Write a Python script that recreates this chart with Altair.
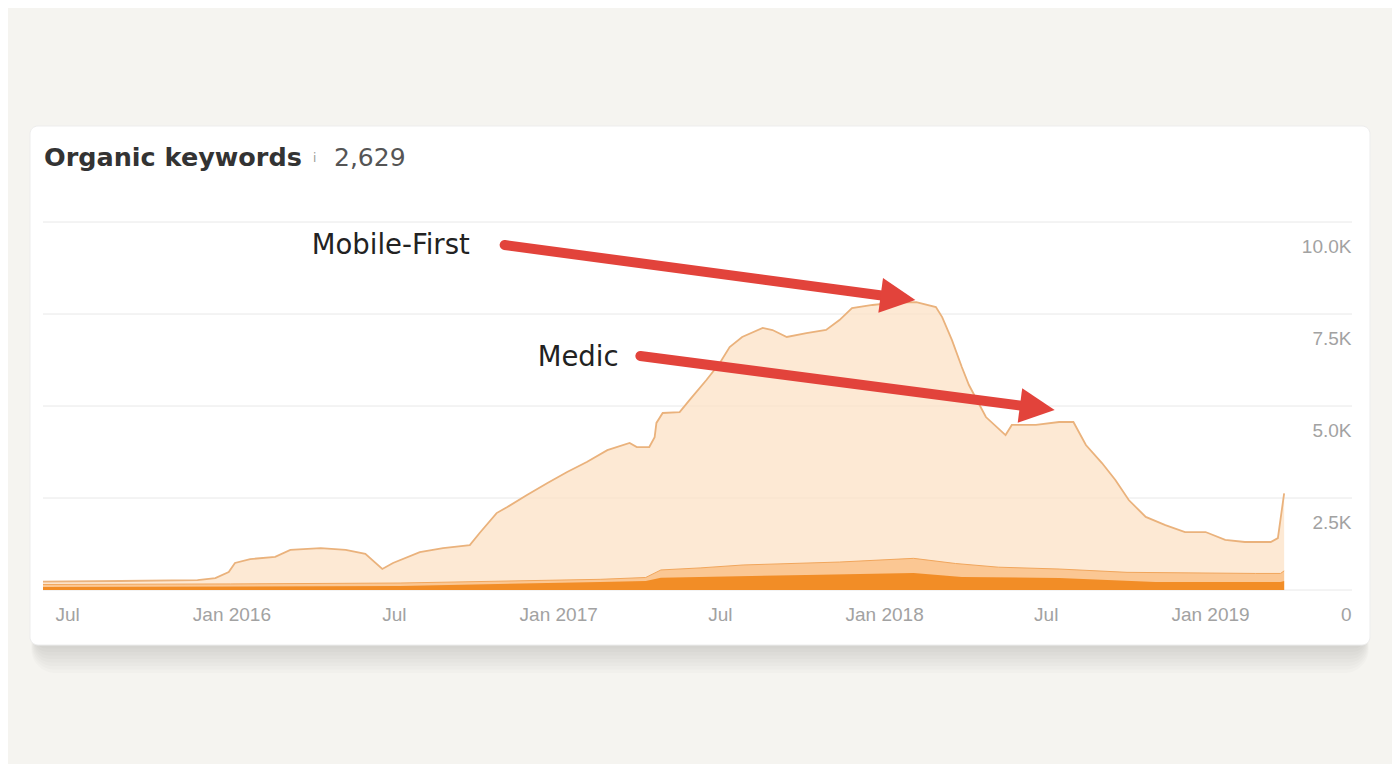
import altair as alt
import pandas as pd

# ---------------- data ----------------
top_dates = ["2015-06-04", "2015-08-30", "2015-11-24", "2015-12-14", "2015-12-29",
             "2016-01-05", "2016-01-22", "2016-02-19", "2016-03-07", "2016-04-10",
             "2016-05-08", "2016-05-30", "2016-06-18", "2016-06-30", "2016-07-30",
             "2016-08-25", "2016-09-24", "2016-10-05", "2016-10-24", "2016-11-05",
             "2016-11-27", "2016-12-20", "2017-01-11", "2017-02-02", "2017-02-25",
             "2017-03-22", "2017-03-30", "2017-04-13", "2017-04-19", "2017-04-21",
             "2017-04-28", "2017-05-17", "2017-05-28", "2017-06-16", "2017-07-01",
             "2017-07-12", "2017-07-26", "2017-08-18", "2017-08-29", "2017-09-14",
             "2017-10-06", "2017-10-28", "2017-11-12", "2017-11-26", "2017-12-19",
             "2018-01-10", "2018-02-06", "2018-02-28", "2018-03-07", "2018-03-18",
             "2018-03-29", "2018-04-06", "2018-04-25", "2018-05-17", "2018-05-24",
             "2018-06-20", "2018-07-16", "2018-08-01", "2018-08-15", "2018-09-02",
             "2018-09-17", "2018-10-02", "2018-10-21", "2018-11-12", "2018-12-04",
             "2018-12-27", "2019-01-18", "2019-02-09", "2019-03-10", "2019-03-18",
             "2019-03-25"]
top_values = [230, 245, 270, 325, 490,
              735, 840, 900, 1090, 1140,
              1090, 980, 570, 735, 1030,
              1140, 1220, 1550, 2090, 2255,
              2580, 2910, 3205, 3480, 3800,
              3995, 3885, 3885, 4155, 4540,
              4810, 4835, 5160, 5705, 6170,
              6600, 6875, 7120, 7065, 6875,
              6980, 7065, 7335, 7660, 7745,
              7800, 7825, 7690, 7415, 6790,
              6060, 5570, 4700, 4210, 4485,
              4485, 4565, 4565, 3940, 3450,
              2990, 2445, 1985, 1765, 1575,
              1575, 1360, 1305, 1305, 1410,
              2629]

mid_dates = ["2015-06-04", "2015-12-31", "2016-07-08", "2017-02-17", "2017-04-09",
             "2017-04-26", "2017-06-09", "2017-07-27", "2017-11-12", "2018-02-03",
             "2018-03-22", "2018-05-09", "2018-07-16", "2018-09-30", "2019-02-21",
             "2019-03-21", "2019-03-25"]
mid_values = [150, 165, 190, 290, 340,
              545, 600, 680, 760, 860,
              720, 620, 570, 480, 450,
              450, 520]

low_dates = ["2015-06-04", "2016-07-08", "2017-02-17", "2017-04-09", "2017-04-26",
             "2017-10-06", "2018-02-03", "2018-03-29", "2018-07-16", "2018-11-01",
             "2019-03-21", "2019-03-25"]
low_values = [80, 110, 215, 245, 330,
              410, 460, 355, 325, 215,
              215, 245]

y_ticks = [0, 2500, 5000, 7500, 10000]

ann_labels = ["Mobile-First", "Medic"]
ann_label_dates = ["2016-03-31", "2016-12-09"]
ann_label_values = [9346, 6303]
arrow_tail_dates = ["2016-11-02", "2017-04-03"]
arrow_tail_values = [9374, 6358]
arrow_neck_dates = ["2018-01-13", "2018-06-19"]
arrow_neck_values = [7953, 4961]
arrow_tip_dates = ["2018-02-05", "2018-07-11"]
arrow_tip_values = [7880, 4891]
arrow_angles = [7.6, 7.4]

title_text = "Organic keywords"
title_value = "2,629"

# ---------------- styling ----------------
PAGE_BG = "#f5f4f0"
PEACH = "#fce0c2"
PEACH_LINE = "#eab27c"
MID = "#f9b878"
LOW = "#f28d26"
RED = "#e2433b"
LABEL_GRAY = "#a2a2a2"
AXIS_FONT = "Liberation Sans"

x_scale = alt.Scale(type="utc",
                    domain=[alt.DateTime(year=2015, month=6, date=4, utc=True),
                            alt.DateTime(year=2019, month=6, date=9, utc=True)])
x_vals = [alt.DateTime(year=y, month=m, date=1, utc=True)
          for (y, m) in [(2015, 7), (2016, 1), (2016, 7), (2017, 1),
                         (2017, 7), (2018, 1), (2018, 7), (2019, 1)]]
x_axis = alt.Axis(values=x_vals, title=None, grid=False, ticks=False, domain=False,
                  labelFlush=False, labelOverlap=False, labelPadding=15,
                  labelFont=AXIS_FONT, labelFontSize=19, labelColor=LABEL_GRAY,
                  zindex=1,
                  labelExpr="utcFormat(datum.value, '%m') == '01' ? utcFormat(datum.value, '%b %Y') : utcFormat(datum.value, '%b')")
y_scale = alt.Scale(domain=[0, 10000], nice=False)
y_axis = alt.Axis(orient="right", values=y_ticks, title=None, grid=False, ticks=False,
                  tickSize=0, domain=False, labelAlign="right", labelPadding=-1,
                  labelOffset=24, labelFont=AXIS_FONT, labelFontSize=19,
                  labelColor=LABEL_GRAY, zindex=1,
                  labelExpr="datum.value == 0 ? '0' : format(datum.value / 1000, '.1f') + 'K'")

X = alt.X("date:T", scale=x_scale, axis=x_axis)
Y = alt.Y("value:Q", scale=y_scale, axis=y_axis)

top_df = pd.DataFrame({"date": top_dates, "value": top_values})
mid_df = pd.DataFrame({"date": mid_dates, "value": mid_values})
low_df = pd.DataFrame({"date": low_dates, "value": low_values})
grid_df = pd.DataFrame({"value": y_ticks})
label_df = pd.DataFrame({"date": ann_label_dates, "value": ann_label_values, "label": ann_labels})
shaft_df = pd.DataFrame({"date": arrow_tail_dates, "value": arrow_tail_values,
                         "date2": arrow_neck_dates, "value2": arrow_neck_values})
head_df = pd.DataFrame({"date": arrow_tip_dates, "value": arrow_tip_values, "angle": arrow_angles})
dummy = pd.DataFrame({"a": [0]})

# card (white panel with soft shadow), positioned relative to the plot area
CX0, CX1, CY0, CY1 = -13, 1327, -96, 423
layers = []
for i in range(1, 9):
    layers.append(
        alt.Chart(dummy).mark_rect(color="#000000", opacity=0.014, cornerRadius=8 + i * 2)
        .encode(x=alt.value(CX0 + 6 - i * 0.6), x2=alt.value(CX1 - 6 + i * 0.6),
                y=alt.value(CY0 + i * 3), y2=alt.value(CY1 + i * 3.5))
    )
layers.append(
    alt.Chart(dummy).mark_rect(color="#ffffff", cornerRadius=8, stroke="#ededed", strokeWidth=1)
    .encode(x=alt.value(CX0), x2=alt.value(CX1), y=alt.value(CY0), y2=alt.value(CY1))
)

grid = alt.Chart(grid_df).mark_rule(color="#e8e8e8", strokeWidth=1).encode(y=Y)

top_area = alt.Chart(top_df).mark_area(color=PEACH, line={"color": PEACH_LINE, "strokeWidth": 1.8}).encode(x=X, y=Y)
mid_area = alt.Chart(mid_df).mark_area(color=MID, line={"color": "#f1a65c", "strokeWidth": 1}).encode(x=X, y=Y)
low_area = alt.Chart(low_df).mark_area(color=LOW).encode(x=X, y=Y)

shafts = alt.Chart(shaft_df).mark_rule(color=RED, strokeWidth=10, strokeCap="round").encode(
    x=X, y=Y, x2="date2:T", y2="value2:Q")
heads = alt.Chart(head_df).mark_point(shape="M0,0L-2,-1L-2,1Z", filled=True, size=1225,
                                      color=RED, opacity=1, strokeWidth=0).encode(
    x=X, y=Y, angle=alt.Angle("angle:Q", scale=None))
labels = alt.Chart(label_df).mark_text(align="left", baseline="middle", font="DejaVu Sans",
                                       fontSize=27.5, color="#222222").encode(x=X, y=Y, text="label:N")

t1 = alt.Chart(dummy).mark_text(text=title_text, align="left", baseline="alphabetic",
                                font="DejaVu Sans", fontWeight="bold", fontSize=25.5,
                                color="#333333").encode(x=alt.value(1), y=alt.value(-56))
t2 = alt.Chart(dummy).mark_text(text="i", align="left", baseline="alphabetic",
                                font="DejaVu Sans", fontSize=12,
                                color="#999999").encode(x=alt.value(270), y=alt.value(-60))
t3 = alt.Chart(dummy).mark_text(text=title_value, align="left", baseline="alphabetic",
                                font="DejaVu Sans", fontSize=25,
                                color="#555555").encode(x=alt.value(291), y=alt.value(-56))

chart = alt.layer(*layers, grid, top_area, mid_area, low_area, shafts, heads, labels, t1, t2, t3).properties(
    width=1309, height=368,
    padding={"left": 35, "top": 214, "right": 40, "bottom": 174},
    autosize=alt.AutoSizeParams(type="none"),
    background=PAGE_BG,
).configure_view(stroke=None)

chart.save("out.html", embed_options={"renderer": "svg", "actions": False})
